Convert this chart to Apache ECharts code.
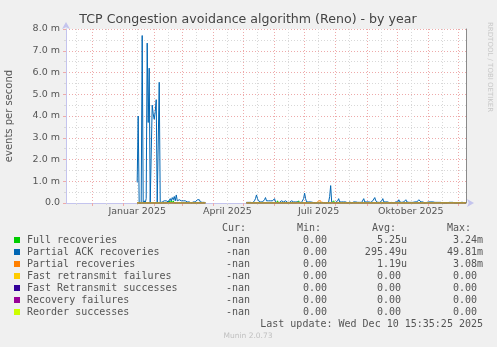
<!DOCTYPE html>
<html>
<head>
<meta charset="utf-8">
<script src="https://cdn.jsdelivr.net/npm/echarts@6/dist/echarts.min.js"></script>
<style>
  html, body { margin: 0; padding: 0; background: #f0f0f0; }
  #chart { width: 497px; height: 347px; }
</style>
</head>
<body>
<div id="chart"></div>
<script>
// ---- chart content ----
const TITLE = 'TCP Congestion avoidance algorithm (Reno) - by year';
const Y_NAME = 'events per second';
const FIRST_DAY = '2024-11-05';
const DAY_COUNT = 400;
const MONTHS_DE = ['Januar', 'Februar', 'März', 'April', 'Mai', 'Juni', 'Juli',
  'August', 'September', 'Oktober', 'November', 'Dezember'];
const LABEL_DAYS = ['2025-01-15', '2025-04-15', '2025-07-15', '2025-10-15'];
const Y_MAX = 8;   // milli-events per second

const seriesNames = ['Full recoveries', 'Partial ACK recoveries', 'Partial recoveries',
  'Fast retransmit failures', 'Fast Retransmit successes', 'Recovery failures', 'Reorder successes'];
const seriesColors = ['#00cc00', '#0066b3', '#ff8000', '#ffcc00', '#330099', '#990099', '#ccff00'];

// days for which values were recorded (outside: no data)
const recordedSpans = [['2025-01-15', '2025-03-24'], ['2025-05-04', '2025-12-09']];

// Partial ACK recoveries, daily averages in milli-events/s
const ackWinterStart = '2025-01-15';
const partialAckWinter = [
  0.95, 4.0, 0, 0, 0, 7.7, 0, 0.1, 0, 0.2, 7.35, 3.7, 6.2, 0, 0, 4.5, 4.1, 3.85, 4.2, 4.75,
  0, 0, 5.55, 0, 0, 0.05, 0, 0.1, 0.05, 0.1, 0.15, 0.05, 0.1, 0.2, 0.1, 0.25, 0.15, 0.3, 0.1, 0.37,
  0.1, 0.05, 0.15, 0.2, 0.1, 0.05, 0.1, 0.05, 0.1, 0.05, 0.05, 0.1, 0.05, 0, 0, 0.03, 0.05, 0.1, 0.05, 0.08,
  0.15, 0.1, 0.15, 0.05, 0.1, 0.03, 0.05, 0.03, 0
];
const ackSummerStart = '2025-05-04';
const partialAckSummer = [
  0.03, 0.03, 0.03, 0.05, 0.03, 0, 0, 0.05, 0.1, 0.2, 0.37, 0.2, 0.1, 0.15, 0.05, 0.1, 0.05, 0.1, 0.15, 0.25,
  0.1, 0.05, 0.1, 0.05, 0.1, 0.05, 0.1, 0.15, 0.2, 0.05, 0.1, 0, 0.05, 0.03, 0.05, 0.1, 0.03, 0.05, 0.03, 0.1,
  0.05, 0.03, 0.05, 0.03, 0.05, 0.1, 0.15, 0.05, 0.03, 0.05, 0.03, 0.05, 0, 0.03, 0.05, 0.03, 0.05, 0.2, 0.45, 0.2,
  0.05, 0.1, 0.05, 0.03, 0.05, 0.03, 0.03, 0.05, 0, 0, 0, 0, 0, 0, 0, 0.03, 0.03, 0.05, 0, 0,
  0, 0, 0.05, 0.3, 0.8, 0.05, 0.03, 0, 0.05, 0.03, 0.05, 0.1, 0.2, 0.05, 0.1, 0.05, 0.03, 0.05, 0.03, 0.05,
  0.03, 0, 0.03, 0.05, 0.03, 0, 0.03, 0.05, 0.1, 0.05, 0.03, 0.03, 0, 0.03, 0.05, 0.03, 0.1, 0.2, 0.05, 0.03,
  0.05, 0.03, 0.05, 0.03, 0.03, 0.05, 0.1, 0.15, 0.25, 0.1, 0.05, 0.03, 0.05, 0.03, 0.05, 0.1, 0.2, 0.05, 0.03, 0.05,
  0.03, 0.05, 0.03, 0, 0.03, 0.03, 0, 0, 0.03, 0.05, 0.03, 0.05, 0.15, 0.05, 0.03, 0.03, 0.05, 0.05, 0.1, 0.15,
  0.05, 0.03, 0.03, 0.05, 0.03, 0, 0.03, 0.03, 0.05, 0.03, 0.05, 0.1, 0.15, 0.2, 0.05, 0.03, 0.05, 0.03, 0, 0,
  0.03, 0.03, 0.05, 0.03, 0.05, 0.03, 0.05, 0.1, 0.03, 0.05, 0.03, 0.1, 0.03, 0.05, 0.03, 0, 0, 0, 0, 0,
  0, 0, 0.03, 0.03, 0.03, 0.03, 0.03, 0, 0, 0, 0, 0, 0, 0.03, 0.03, 0.03, 0.03, 0.03, 0, 0
];
// sparse non-zero days of the other counters
const fullRecoveryDays = [['2025-02-16', 0.1], ['2025-02-18', 0.12], ['2025-02-20', 0.1],
  ['2025-06-04', 0.1], ['2025-06-25', 0.1], ['2025-07-30', 0.1]];
const partialRecoveryDays = [['2025-07-15', 0.1], ['2025-07-16', 0.12], ['2025-07-17', 0.1]];

// legend table
const legendHeaders = ['Cur:', 'Min:', 'Avg:', 'Max:'];
const legendCur = ['-nan', '-nan', '-nan', '-nan', '-nan', '-nan', '-nan'];
const legendMin = ['0.00', '0.00', '0.00', '0.00', '0.00', '0.00', '0.00'];
const legendAvg = ['5.25u', '295.49u', '1.19u', '0.00', '0.00', '0.00', '0.00'];
const legendMax = ['3.24m', '49.81m', '3.08m', '0.00', '0.00', '0.00', '0.00'];
const LAST_UPDATE = 'Last update: Wed Dec 10 15:35:25 2025';
const FOOTER = 'Munin 2.0.73';
const SIDE_NOTE = 'RRDTOOL / TOBI OETIKER';

// ---- build daily tables ----
const startMs = Date.parse(FIRST_DAY + 'T00:00:00Z');
const days = [];
for (let i = 0; i < DAY_COUNT; i++) {
  days.push(new Date(startMs + i * 86400000).toISOString().slice(0, 10));
}
function dayIndex(s) { return Math.round((Date.parse(s + 'T00:00:00Z') - startMs) / 86400000); }
function zeroInSpans() {
  const a = new Array(DAY_COUNT).fill(null);
  recordedSpans.forEach(([s, e]) => { for (let i = dayIndex(s); i <= dayIndex(e); i++) a[i] = 0; });
  return a;
}
function placeRun(arr, start, values) {
  const o = dayIndex(start);
  values.forEach((v, k) => { arr[o + k] = v; });
}
function placeSparse(arr, pairs) { pairs.forEach(([d, v]) => { arr[dayIndex(d)] = v; }); }

const seriesData = seriesNames.map(() => zeroInSpans());
placeSparse(seriesData[0], fullRecoveryDays);
placeRun(seriesData[1], ackWinterStart, partialAckWinter);
placeRun(seriesData[1], ackSummerStart, partialAckSummer);
placeSparse(seriesData[2], partialRecoveryDays);

const isMonthStart = (i, v) => v.slice(8) === '01';
const isMidMonth = (i, v) => v.slice(8) === '15';
const isLabelDay = (i, v) => LABEL_DAYS.indexOf(v) >= 0;

const AXIS_COLOR = '#c4c4ee';
const MAJOR_GRID = '#eeaaaa';
const MINOR_GRID = '#d8d8d8';
const LABEL_FONT = 'DejaVu Sans';
const MONO = '10px "DejaVu Sans Mono"';

// ---- legend graphics ----
const graphics = [];
graphics.push({ type: 'text', x: 248, y: 19.5, silent: true,
  style: { text: TITLE, font: '12.6px "DejaVu Sans"', fill: '#444', align: 'center', verticalAlign: 'middle' } });
graphics.push({ type: 'text', x: 490, y: 22, rotation: -Math.PI / 2, silent: true,
  style: { text: SIDE_NOTE, font: '7px "DejaVu Sans"', fill: '#c8c8c8', align: 'left', verticalAlign: 'middle' } });
const headerX = [222, 297, 372, 447];
legendHeaders.forEach((h, k) => graphics.push({ type: 'text', x: headerX[k], y: 228, silent: true,
  style: { text: h, font: MONO, fill: '#555', align: 'left', verticalAlign: 'middle' } }));
seriesNames.forEach((name, k) => {
  const y = 240 + 12 * k;
  graphics.push({ type: 'rect', shape: { x: 14, y: y - 3, width: 6, height: 6 }, silent: true,
    style: { fill: seriesColors[k] } });
  const cell = (text, x, align) => graphics.push({ type: 'text', x, y, silent: true,
    style: { text, font: MONO, fill: '#555', align: align, verticalAlign: 'middle' } });
  cell(name, 27, 'left');
  cell(legendCur[k], 250, 'right');
  cell(legendMin[k], 327, 'right');
  cell(legendAvg[k], /[a-z]$/.test(legendAvg[k]) ? 407 : 401, 'right');
  cell(legendMax[k], /[a-z]$/.test(legendMax[k]) ? 483 : 477, 'right');
});
graphics.push({ type: 'text', x: 483, y: 324, silent: true,
  style: { text: LAST_UPDATE, font: MONO, fill: '#555', align: 'right', verticalAlign: 'middle' } });
graphics.push({ type: 'text', x: 248, y: 336, silent: true,
  style: { text: FOOTER, font: '7.5px "DejaVu Sans"', fill: '#c0c0c0', align: 'center', verticalAlign: 'middle' } });

// ---- chart ----
const chart = echarts.init(document.getElementById('chart'), null, { renderer: 'canvas' });
chart.setOption({
  animation: false,
  backgroundColor: '#f0f0f0',
  grid: { left: 66, top: 29, width: 400, height: 174, show: true, backgroundColor: '#ffffff', borderWidth: 0,
    containLabel: false, outerBoundsMode: 'none' },
  xAxis: [{
    type: 'category', data: days, boundaryGap: false,
    axisLine: { show: true, lineStyle: { color: AXIS_COLOR, width: 1 },
      symbol: ['none', 'arrow'], symbolSize: [6, 7], symbolOffset: [0, 8] },
    axisTick: { show: true, interval: isMonthStart, length: 3, lineStyle: { color: MAJOR_GRID } },
    axisLabel: { show: true, interval: isLabelDay, margin: 4, color: '#555', fontSize: 9.5, fontFamily: LABEL_FONT,
      formatter: v => MONTHS_DE[+v.slice(5, 7) - 1] + ' ' + v.slice(0, 4) },
    splitLine: { show: true, interval: isMonthStart, lineStyle: { color: MAJOR_GRID, type: [1, 2], width: 1 } }
  }, {
    type: 'category', data: days, boundaryGap: false, position: 'bottom',
    axisLine: { show: false },
    axisTick: { show: true, interval: isMidMonth, length: 2, lineStyle: { color: MINOR_GRID } },
    axisLabel: { show: false },
    splitLine: { show: true, interval: isMidMonth, lineStyle: { color: MINOR_GRID, type: [1, 2], width: 1 } }
  }],
  yAxis: [{
    type: 'value', min: 0, max: Y_MAX, interval: 1,
    name: Y_NAME, nameLocation: 'middle', nameGap: 52, nameRotate: 90,
    nameTextStyle: { color: '#555', fontSize: 10, fontFamily: LABEL_FONT },
    axisLine: { show: true, lineStyle: { color: AXIS_COLOR, width: 1 },
      symbol: ['none', 'arrow'], symbolSize: [6, 7], symbolOffset: [0, 7] },
    axisTick: { show: true, length: 3, lineStyle: { color: MAJOR_GRID } },
    minorTick: { show: true, splitNumber: 2, length: 2, lineStyle: { color: MINOR_GRID } },
    axisLabel: { margin: 6, color: '#555', fontSize: 9.5, fontFamily: LABEL_FONT,
      formatter: v => v === 0 ? '0.0' : v.toFixed(1) + ' m' },
    splitLine: { show: true, lineStyle: { color: MAJOR_GRID, type: [1, 2], width: 1 } },
    minorSplitLine: { show: true, lineStyle: { color: MINOR_GRID, type: [1, 2], width: 1 } }
  }, {
    type: 'value', min: 0, max: Y_MAX, position: 'right',
    axisLine: { show: true, lineStyle: { color: '#8a8a8a', width: 1 } },
    axisTick: { show: false }, axisLabel: { show: false }, splitLine: { show: false }
  }],
  series: seriesNames.map((name, k) => ({
    name, type: 'line', xAxisIndex: 0, yAxisIndex: 0, data: seriesData[k],
    showSymbol: false, symbol: 'none', connectNulls: false, silent: true,
    lineStyle: { width: 1, color: seriesColors[k] }, itemStyle: { color: seriesColors[k] },
    emphasis: { disabled: true }
  })),
  graphic: graphics
});
</script>
</body>
</html>
